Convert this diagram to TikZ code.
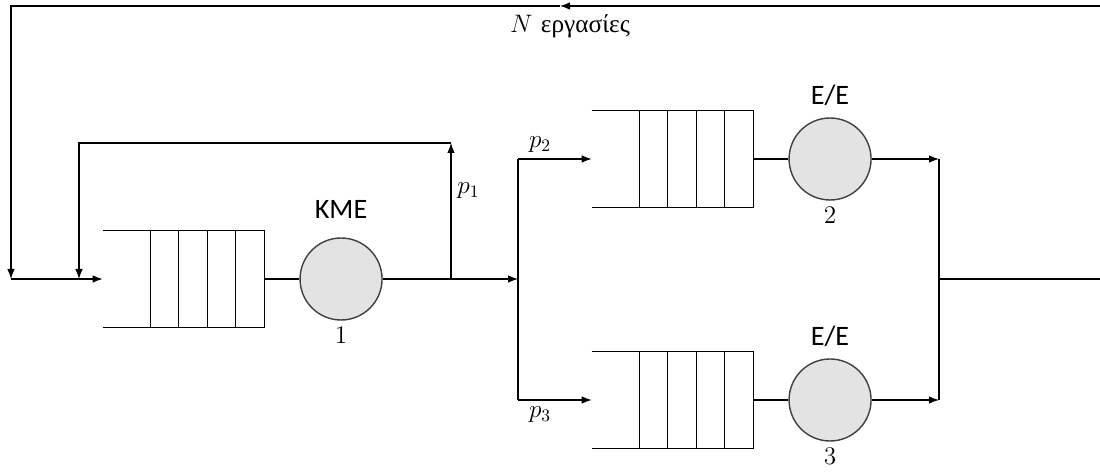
\documentclass[tikz,border=0pt]{standalone}
\usepackage{fontspec}
\newfontfamily\greekfont{Liberation Serif}
\newfontfamily\labelfont{Carlito}
\usetikzlibrary{arrows.meta,positioning}

\begin{document}
\begin{tikzpicture}[
  queue/.style={minimum width=3.22cm, minimum height=1.92cm, inner sep=0pt},
  server/.style={circle, draw=black!75, line width=0.8pt, fill=black!11, minimum size=1.64cm, inner sep=0pt},
  arr/.style={-{Latex[length=2mm, width=1.5mm]}, semithick},
  line/.style={semithick},
  srvlabel/.style={font=\labelfont\fontsize{16}{19}\selectfont},
  num/.style={font=\Large},
]
  \useasboundingbox (0,0) rectangle (22,9.44);

  % queues and servers
  \node[queue] (q1) at (3.67,3.86) {};
  \node[server, right=0.7cm of q1, label={[srvlabel, label distance=0.25cm]above:KME}, label={[num]below:1}] (s1) {};
  \node[queue] (q2) at (13.45,6.26) {};
  \node[server, right=0.7cm of q2, label={[srvlabel, label distance=0.1cm]above:E/E}, label={[num]below:2}] (s2) {};
  \node[queue] (q3) at (13.45,1.44) {};
  \node[server, right=0.7cm of q3, label={[srvlabel, label distance=0.1cm]above:E/E}, label={[num]below:3}] (s3) {};

  \foreach \q in {q1,q2,q3} {
    \draw[line width=0.5pt] (\q.north west) -- (\q.north east) -- (\q.south east) -- (\q.south west);
    \foreach \i in {1,2,3,4}
      \draw[line width=0.5pt] ([xshift=-\i*0.57cm]\q.north east) -- ([xshift=-\i*0.57cm]\q.south east);
    \draw[line] (\q.east) -- ++(0.7,0);
  }

  % junctions
  \coordinate (src) at (0.22,3.86);
  \coordinate (fbin) at (1.58,3.86);
  \coordinate (j1) at (9.02,3.86);
  \coordinate (fbtop) at (9.02,6.58);
  \coordinate (split) at (10.36,3.86);
  \coordinate (up) at (10.36,6.26);
  \coordinate (down) at (10.36,1.44);
  \coordinate (m2) at (18.78,6.26);
  \coordinate (m3) at (18.78,1.44);
  \coordinate (mout) at (18.78,3.86);
  \coordinate (far) at (22.4,3.86);
  \coordinate (fartop) at (22.4,9.32);
  \coordinate (mid) at (11.2,9.32);
  \coordinate (corner) at (0.22,9.32);

  \draw[arr] (src) -- (q1.west);
  \draw[arr] (s1.east) -- (split);
  \draw[arr] (j1) -- node[right, num, pos=0.65] {$p_1$} (fbtop);
  \draw[arr] (fbtop) -| (fbin);
  \draw[line] (up) -- (down);
  \draw[arr] (up) -- node[above, num, pos=0.3] {$p_2$} (q2.west);
  \draw[arr] (down) -- node[below, num, pos=0.3] {$p_3$} (q3.west);
  \draw[arr] (s2.east) -- (m2);
  \draw[arr] (s3.east) -- (m3);
  \draw[line] (m2) -- (m3);
  \draw[line] (mout) -- (far) -- (fartop);
  \draw[arr] (fartop) -- (mid);
  \draw[arr] (mid) -- (corner) -- (src);

  \node[num] (jobs) at (11.4,8.92) {$N$ {\greekfont εργασίες}};
\end{tikzpicture}
\end{document}
